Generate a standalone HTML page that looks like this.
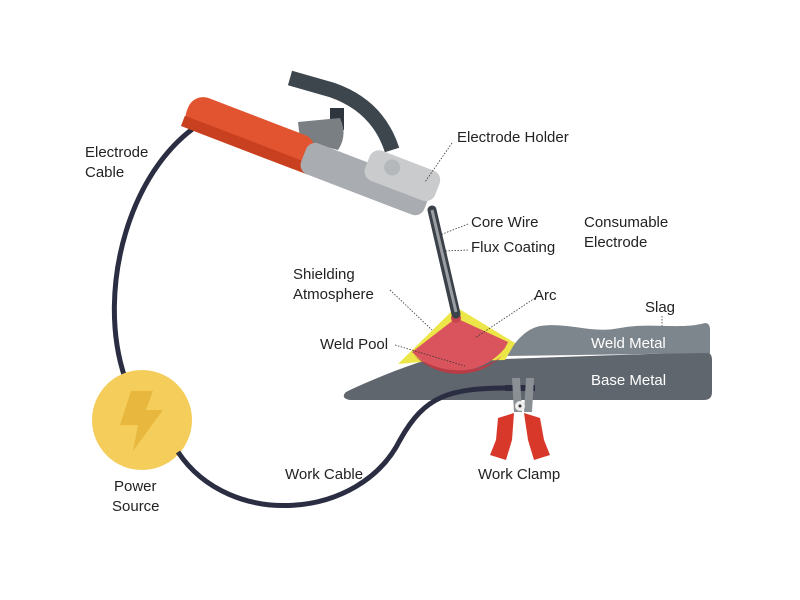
<!DOCTYPE html>
<html><head><meta charset="utf-8"><style>
html,body{margin:0;padding:0;background:#fff;}
svg{display:block;}
text{font-family:"Liberation Sans",sans-serif;font-size:15px;fill:#222;}
</style></head><body>
<svg width="800" height="600" viewBox="0 0 800 600" xmlns="http://www.w3.org/2000/svg">
<!-- electrode cable -->
<path d="M210,118 C130,160 95,290 125,378" fill="none" stroke="#2b2d42" stroke-width="5"/>
<!-- power source -->
<circle cx="142" cy="420" r="50" fill="#f5cd5b"/>
<path d="M131,391 L153,391 L146,410 L163,410 L133,451 L138,425 L120,425 Z" fill="#e8b83e"/>
<!-- base metal -->
<path d="M346,392 C360,385 390,372 420,362 L705,352 Q712,352 712,360 L712,392 Q712,400 704,400 L350,400 Q340,398 346,392 Z" fill="#5f666e"/>
<!-- work cable -->
<path d="M178,452 C230,530 360,520 400,440 C425,395 450,388 510,388" fill="none" stroke="#2b2d42" stroke-width="5"/>
<!-- weld metal -->
<path d="M505,355 C515,345 522,330 540,326 C570,322 590,334 620,328 C650,322 680,330 705,323 Q710,323 710,330 L710,353 L505,356 Z" fill="#7e868d"/>
<!-- shielding -->
<path d="M398,364 L456,307 L515,343 L505,360 L420,362 Z" fill="#ece648"/>
<!-- weld pool -->
<path d="M456,318 L412,352 A62,62 0 0 0 505,348 L508,342 Z" fill="#d9545d"/>
<path d="M414,355 A62,62 0 0 0 502,356 A62,50 0 0 1 414,355 Z" fill="#b83c46"/>
<circle cx="456" cy="318" r="5" fill="#c8444d"/>
<!-- electrode -->
<line x1="432" y1="210" x2="456" y2="314" stroke="#3a4149" stroke-width="9" stroke-linecap="round"/>
<line x1="432" y1="210" x2="456" y2="312" stroke="#9a9ea2" stroke-width="3"/>
<!-- holder jaw -->
<path d="M290,78 L332,90 Q378,106 392,150" fill="none" stroke="#3d454d" stroke-width="15" stroke-linejoin="round"/>
<rect x="330" y="108" width="14" height="22" fill="#2e353c"/>
<path d="M298,122 L340,118 Q348,135 338,150 L300,140 Z" fill="#7a7f84"/>
<!-- holder -->
<g transform="rotate(21 195 95)">
<rect x="193" y="93" width="135" height="36" rx="16" fill="#e2532f"/>
<rect x="193" y="118" width="135" height="11" fill="#c8401f"/>
<rect x="318" y="96" width="132" height="33" rx="10" fill="#a9acb0"/>
<rect x="380" y="80" width="75" height="32" rx="10" fill="#c9cbcd"/>
<circle cx="405" cy="92" r="8" fill="#b5b8bb"/>
</g>
<!-- clamp -->
<rect x="505" y="385" width="30" height="6" fill="#2b2d42"/>
<path d="M512,378 L520,378 L522,412 L514,412 Z" fill="#8b9095"/>
<path d="M526,378 L534,378 L532,412 L524,412 Z" fill="#8b9095"/>
<circle cx="520" cy="406" r="5" fill="#eee"/><circle cx="520" cy="406" r="1.5" fill="#333"/>
<path d="M498,418 L514,413 L512,440 L506,460 L490,455 L496,440 Z" fill="#d8382a"/>
<path d="M524,413 L540,418 L544,440 L550,455 L534,460 L528,440 Z" fill="#d8382a"/>
<!-- leader lines -->
<g stroke="#333" stroke-width="0.8" stroke-dasharray="1.5,1.5" fill="none">
<line x1="452" y1="143" x2="425" y2="182"/>
<line x1="468" y1="224" x2="440" y2="235"/>
<line x1="468" y1="250" x2="445" y2="251"/>
<line x1="390" y1="290" x2="432" y2="330"/>
<line x1="535" y1="298" x2="475" y2="338"/>
<line x1="395" y1="345" x2="465" y2="366"/>
<line x1="662" y1="316" x2="662" y2="326"/>
</g>
<!-- labels -->
<text x="85" y="157">Electrode</text><text x="85" y="177">Cable</text>
<text x="457" y="142">Electrode Holder</text>
<text x="471" y="227">Core Wire</text>
<text x="471" y="252">Flux Coating</text>
<text x="584" y="227">Consumable</text><text x="584" y="247">Electrode</text>
<text x="293" y="279">Shielding</text><text x="293" y="299">Atmosphere</text>
<text x="534" y="300">Arc</text>
<text x="645" y="312">Slag</text>
<text x="320" y="349">Weld Pool</text>
<text x="591" y="348" style="fill:#fff">Weld Metal</text>
<text x="591" y="385" style="fill:#fff">Base Metal</text>
<text x="285" y="479">Work Cable</text>
<text x="478" y="479">Work Clamp</text>
<text x="114" y="491">Power</text><text x="112" y="511">Source</text>
</svg>
</body></html>
